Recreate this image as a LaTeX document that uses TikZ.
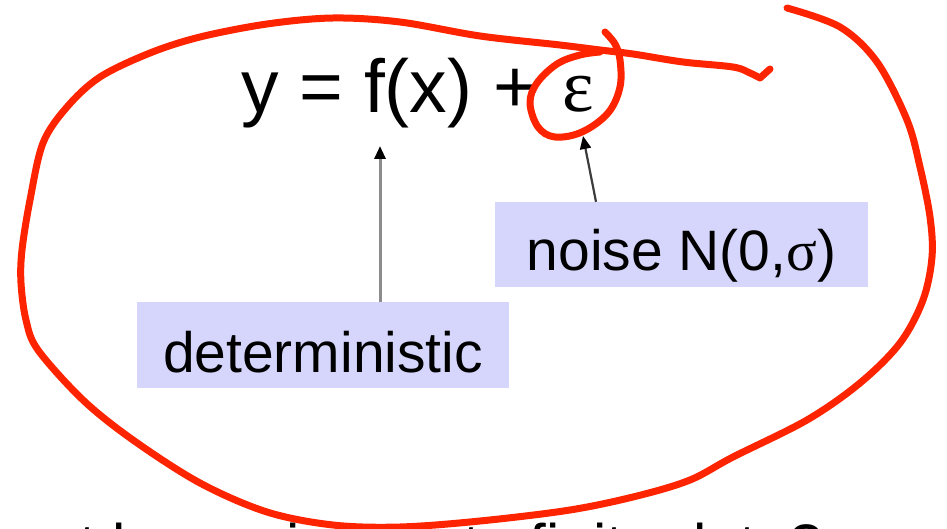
\documentclass[tikz,border=0pt]{standalone}
\usepackage{fontspec}
\setmainfont{Liberation Sans}
\newfontfamily\grk{Liberation Serif}
\usetikzlibrary{arrows.meta}
\definecolor{boxfill}{RGB}{214,214,252}
\definecolor{pen}{RGB}{255,36,0}
\definecolor{shaftgray}{RGB}{140,140,140}
\definecolor{shaftdark}{RGB}{60,60,60}
\begin{document}
\begin{tikzpicture}[x=1pt,y=-1pt,
  eqtext/.style={inner sep=0pt, font=\fontsize{75}{80}\selectfont},
  lblbox/.style={fill=boxfill, inner sep=0pt, font=\fontsize{57}{60}\selectfont, text depth=0pt},
  ptr/.style={line width=3pt, -{Triangle[length=13pt,width=11pt,color=black]}},
  ink/.style={draw=pen, line width=7pt, line cap=round, line join=round}]
\useasboundingbox (0,0) rectangle (947,529);
\fill[white] (0,0) rectangle (947,529);

% equation
\node[eqtext, anchor=base west] (eq) at (241,113) {y = f(x) +};
\node[eqtext, anchor=base west, font=\fontsize{75}{80}\selectfont\grk] (eps) at (562,112) {ε};

% labels
\node[lblbox, minimum width=372pt, minimum height=86pt, text height=54pt] (det) at (323,345) {deterministic};
\node[lblbox, minimum width=373pt, minimum height=85pt, text height=51pt] (noise) at (681.5,244.5) {noise N(0,{\grk σ})};

% arrow targets
\coordinate (ftip) at (380,146);
\coordinate (etip) at (583,136);
\coordinate (nfoot) at (596,0);

\draw[ptr, draw=shaftgray] (det.north -| ftip) -- (ftip);
\draw[ptr, draw=shaftdark, line width=2.2pt] (noise.north -| nfoot) -- (etip);

% cut-off next line of the slide
\begin{scope}
\clip (0,0) rectangle (947,529);
\node[anchor=base west, inner sep=0pt, font=\fontsize{60}{60}\selectfont] (nextline) at (46,566) {at low noise up to finite data?};
\end{scope}

% red hand-drawn marks
\draw[ink] plot[smooth, tension=0.55] coordinates {
 (787,8) (840,27) (877,62) (907,120) (920,167) (930,217) (932,257) (923,300)
 (900,343) (860,383) (807,420) (733,457) (690,480) (637,496) (570,510)
 (480,521) (400,527) (333,525) (267,512) (200,483) (133,440) (83,400)
 (38,350) (26,320) (21,283) (22,250) (30,200) (43,143) (67,107) (100,77)
 (150,53) (200,37) (267,24) (333,18) (400,22) (480,36) (560,45) (600,50)
 (633,54) (683,62) (733,67) (750,73) (760,78)} -- (770,69);
\draw[ink] plot[smooth, tension=0.6] coordinates {
 (605,32) (615,44) (620,60) (620,87) (608,113) (582,132) (555,137) (538,127)
 (530,103) (537,83) (557,64) (580,55) (600,52)};
\end{tikzpicture}
\end{document}
